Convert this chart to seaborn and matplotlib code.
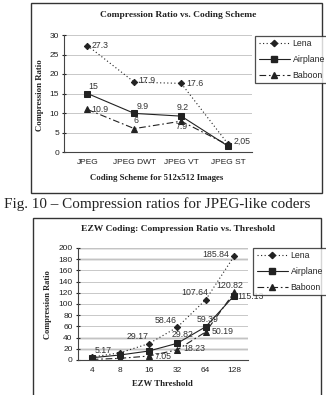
import matplotlib
matplotlib.use("Agg")
import matplotlib.pyplot as plt
import matplotlib.patches as mpatches
import seaborn as sns
import pandas as pd

# ---------------- data ----------------
schemes = ["JPEG", "JPEG DWT", "JPEG VT", "JPEG ST"]
lena_jpeg = [27.3, 17.9, 17.6, 2.05]
airplane_jpeg = [15, 9.9, 9.2, 1.5]
baboon_jpeg = [10.9, 6, 7.9, 1.8]
lena_jpeg_labels = ["27.3", "17.9", "17.6", "2,05"]
airplane_jpeg_labels = ["15", "9.9", "9.2", ""]
baboon_jpeg_labels = ["10.9", "6", "7.9", ""]

thresholds = ["4", "8", "16", "32", "64", "128"]
lena_ezw = [5.17, 13, 29.17, 58.46, 107.64, 185.84]
airplane_ezw = [4, 9, 16, 29.82, 59.39, 115.13]
baboon_ezw = [1, 3, 7.05, 18.23, 50.19, 120.82]
lena_ezw_labels = ["5.17", "", "29.17", "58.46", "107.64", "185.84"]
airplane_ezw_labels = ["", "", "", "29.82", "59.39", "115.13"]
baboon_ezw_labels = ["", "", "7.05", "18.23", "50.19", "120.82"]

series_names = ["Lena", "Airplane", "Baboon"]

# ---------------- style ----------------
sns.set_style("white")
plt.rcParams["font.family"] = ["Liberation Sans", "DejaVu Sans"]
SERIF = ["Liberation Serif", "DejaVu Serif"]

W, H = 326, 395
fig = plt.figure(figsize=(W / 100, H / 100), dpi=100)


def fx(px):
    return px / W


def fy(py):
    return 1 - py / H


def axes_px(left, top, right, bottom):
    return fig.add_axes([fx(left), fy(bottom), fx(right - left), (bottom - top) / H])


markers = {"Lena": "D", "Airplane": "s", "Baboon": "^"}
dashes = {"Lena": (1, 2.2), "Airplane": "", "Baboon": (6, 2.5, 1.5, 2.5)}
msizes = {"Lena": 3.2, "Airplane": 4.2, "Baboon": 4.5}

# boxes around the two charts
fig.patches.append(mpatches.Rectangle((fx(31), fy(193)), fx(322 - 31), (193 - 3) / H,
                                      transform=fig.transFigure, fill=False,
                                      edgecolor="#333333", linewidth=1.0))
fig.patches.append(mpatches.Rectangle((fx(33), fy(397)), fx(321 - 33), (397 - 218) / H,
                                      transform=fig.transFigure, fill=False,
                                      edgecolor="#333333", linewidth=1.0))


def draw_chart(ax, cats, values, labels, offsets):
    rows = []
    for name, vals in zip(series_names, values):
        for c, v in zip(cats, vals):
            rows.append({"x": c, "y": v, "image": name})
    df = pd.DataFrame(rows)
    sns.lineplot(data=df, x="x", y="y", style="image", markers=markers,
                 dashes=dashes, color="#222222", linewidth=0.8, ax=ax,
                 legend=False, sort=False)
    for line, name in zip(ax.get_lines(), series_names):
        line.set_markersize(msizes[name])
        line.set_markerfacecolor("#222222")
        line.set_markeredgecolor("#222222")
    for name, vals, labs, offs in zip(series_names, values, labels, offsets):
        for i, (v, t, o) in enumerate(zip(vals, labs, offs)):
            if t:
                ax.annotate(t, (i, v), xytext=o, textcoords="offset points",
                            fontsize=6.3, color="#333333", ha="center", va="center")
    ax.set_xlim(-0.5, len(cats) - 0.5)
    ax.set_xticks(range(len(cats)))
    ax.set_xticklabels(cats)
    ax.set_xticks([i - 0.5 for i in range(1, len(cats) + 1)], minor=True)
    ax.tick_params(axis="x", which="major", length=0, labelsize=6, pad=5, colors="#222222")
    ax.tick_params(axis="x", which="minor", length=3, direction="out", color="#444444")
    ax.tick_params(axis="y", length=3, direction="inout", labelsize=6, pad=2,
                   colors="#222222", left=True)
    for s in ["top", "right"]:
        ax.spines[s].set_visible(False)
    for s in ["left", "bottom"]:
        ax.spines[s].set_color("#444444")
        ax.spines[s].set_linewidth(0.8)
    ax.set_xlabel("")
    ax.set_ylabel("")
    ax.set_facecolor("none")


def make_legend(ax, left, top, right, bottom):
    handles = []
    for name in series_names:
        h, = ax.plot([], [], color="#222222", linewidth=0.8, marker=markers[name],
                     markersize=msizes[name])
        if dashes[name]:
            h.set_dashes(dashes[name])
        handles.append(h)
    leg = fig.legend(handles, series_names, loc="upper left",
                     bbox_to_anchor=(fx(left), fy(bottom), fx(right - left), (bottom - top) / H),
                     mode="expand", frameon=True, fancybox=False, fontsize=6.3,
                     handlelength=3.6, handletextpad=0.3, borderpad=0.4,
                     labelspacing=0.75, borderaxespad=0)
    leg.get_frame().set_edgecolor("#222222")
    leg.get_frame().set_linewidth(0.9)
    return leg


# ---------------- top chart ----------------
ax1 = axes_px(64, 35, 251.5, 152)
top_offsets = [
    [(9, 0), (9, 1.5), (10, 0), (10, 2)],
    [(4, 5), (6, 5), (1, 6), (0, 0)],
    [(9, 0), (1, 6), (0, -4), (0, 0)],
]
draw_chart(ax1, schemes, [lena_jpeg, airplane_jpeg, baboon_jpeg],
           [lena_jpeg_labels, airplane_jpeg_labels, baboon_jpeg_labels], top_offsets)
ax1.set_ylim(0, 30)
ax1.set_yticks(range(0, 31, 5))
ax1.yaxis.grid(True, color="#c8c8c8", linewidth=0.7)
ax1.set_axisbelow(True)
make_legend(ax1, 255, 36, 330, 80)

fig.text(fx(178), fy(15), "Compression Ratio vs. Coding Scheme", family=SERIF,
         fontweight="bold", fontsize=6.8, ha="center", va="center", color="#222222")
fig.text(fx(40), fy(95), "Compression Ratio", family=SERIF, fontweight="bold",
         fontsize=6.3, rotation=90, ha="center", va="center", color="#222222")
fig.text(fx(157), fy(178), "Coding Scheme for 512x512 Images", family=SERIF,
         fontweight="bold", fontsize=6.3, ha="center", va="center", color="#222222")

# caption
fig.text(fx(4), fy(204), "Fig. 10 \u2013 Compression ratios for JPEG-like coders",
         family=SERIF, fontsize=10.9, ha="left", va="center", color="#222222")

# ---------------- bottom chart ----------------
ax2 = axes_px(77.5, 248, 248.5, 360)
bot_offsets = [
    [(8, 5), (0, 0), (-8, 5), (-8, 5), (-8, 5), (-13, 1)],
    [(0, 0), (0, 0), (0, 0), (4, 6), (1, 5), (12, -1)],
    [(0, 0), (0, 0), (10, 0), (12, 1), (12, 0), (-3, 5)],
]
draw_chart(ax2, thresholds, [lena_ezw, airplane_ezw, baboon_ezw],
           [lena_ezw_labels, airplane_ezw_labels, baboon_ezw_labels], bot_offsets)
ax2.set_ylim(0, 200)
ax2.set_yticks(range(0, 201, 20))
ax2.yaxis.grid(True, color="#c8c8c8", linewidth=0.7)
for yv in [20, 40, 180, 200]:
    ax2.axhline(yv, color="#333333", linewidth=0.9, zorder=0.5)
ax2.set_axisbelow(True)
make_legend(ax2, 253, 248, 330, 290)

fig.text(fx(178), fy(229), "EZW Coding: Compression Ratio vs. Threshold", family=SERIF,
         fontweight="bold", fontsize=6.8, ha="center", va="center", color="#222222")
fig.text(fx(48), fy(305), "Compression Ratio", family=SERIF, fontweight="bold",
         fontsize=6.0, rotation=90, ha="center", va="center", color="#222222")
fig.text(fx(162), fy(384), "EZW Threshold", family=SERIF, fontweight="bold",
         fontsize=6.3, ha="center", va="center", color="#222222")

fig.savefig("out.png", dpi=100)
